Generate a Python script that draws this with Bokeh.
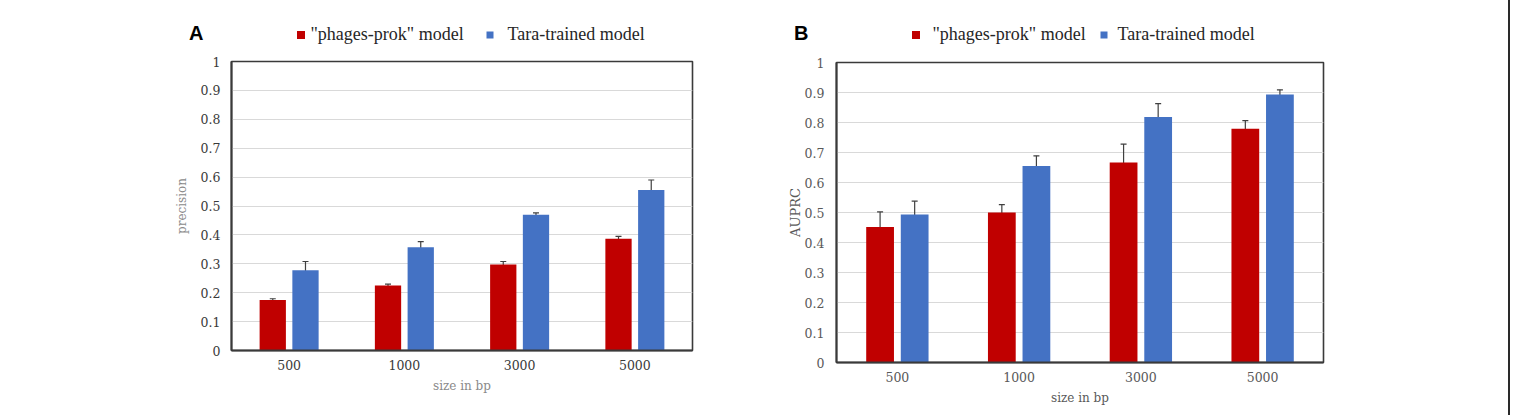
from bokeh.plotting import figure
from bokeh.models import (ColumnDataSource, FactorRange, Range1d, Whisker, TeeHead,
                          Label, FixedTicker, LinearAxis, Div)
from bokeh.layouts import row, column
from bokeh.transform import dodge
from bokeh.embed import file_html
from bokeh.resources import INLINE

# ---- data -------------------------------------------------------------
sizes = ["500", "1000", "3000", "5000"]
series = ['"phages-prok" model', "Tara-trained model"]

precision_phages = [0.175, 0.225, 0.298, 0.387]
precision_phages_err = [0.004, 0.005, 0.010, 0.008]
precision_tara = [0.278, 0.357, 0.470, 0.555]
precision_tara_err = [0.030, 0.020, 0.006, 0.035]

auprc_phages = [0.452, 0.500, 0.667, 0.779]
auprc_phages_err = [0.050, 0.026, 0.061, 0.027]
auprc_tara = [0.493, 0.655, 0.818, 0.893]
auprc_tara_err = [0.045, 0.034, 0.045, 0.016]

y_ticks = [0, 0.1, 0.2, 0.3, 0.4, 0.5, 0.6, 0.7, 0.8, 0.9, 1]

RED = "#C00000"
BLUE = "#4472C4"
COLORS = [RED, BLUE]
SERIF = "Liberation Serif"
TICK_FONT = "DejaVu Serif"


def make_header(letter, width, height, b_left, frame_w, x0,
                swatch_x, swatch_sizes, text_x):
    """Strip above a chart: panel letter on the left, legend in the strip.

    The strip shares the chart's left border and frame width, so its x data
    coordinates run in the same pixels as the page (x0 .. x0 + frame_w) and
    y runs downward from 0 at the top of the strip.
    """
    h = figure(x_range=Range1d(x0, x0 + frame_w), y_range=Range1d(height, 0),
               width=width, height=height, frame_width=frame_w, frame_height=height,
               min_border_left=b_left, min_border_right=width - b_left - frame_w,
               min_border_top=0, min_border_bottom=0,
               x_axis_type=None, y_axis_type=None,
               output_backend="svg", toolbar_location=None, tools="")
    h.grid.visible = False
    h.outline_line_color = None
    h.background_fill_color = "white"
    h.border_fill_color = "white"

    # panel letter, written as the single tick label of a bare left axis
    letter_axis = LinearAxis(ticker=FixedTicker(ticks=[32]),
                             major_label_overrides={32: letter},
                             axis_line_color=None, major_tick_line_color=None,
                             minor_tick_line_color=None, major_tick_out=0,
                             major_tick_in=0, major_label_standoff=28,
                             major_label_text_font="Liberation Sans",
                             major_label_text_font_style="bold",
                             major_label_text_font_size="20px",
                             major_label_text_color="black")
    h.add_layout(letter_axis, "left")

    for name, color, sx, ss, tx in zip(series, COLORS, swatch_x, swatch_sizes, text_x):
        h.scatter(x=[sx], y=[34.5], marker="square", size=ss,
                  fill_color=color, line_color=None)
        h.add_layout(Label(x=tx, y=33.5, text=name, text_font=SERIF,
                           text_font_size="18px", text_baseline="middle",
                           text_align="left", text_color="#262626"))
    return h


def make_panel(ylabel, red_vals, red_err, blue_vals, blue_err,
               width, height, frame_w, frame_h, b_left, b_bottom,
               tick_color, label_color, ylabel_size, ylabel_standoff,
               ytick_standoff):
    src = ColumnDataSource(dict(
        size=sizes,
        red=red_vals,
        red_lo=[v - e for v, e in zip(red_vals, red_err)],
        red_hi=[v + e for v, e in zip(red_vals, red_err)],
        blue=blue_vals,
        blue_lo=[v - e for v, e in zip(blue_vals, blue_err)],
        blue_hi=[v + e for v, e in zip(blue_vals, blue_err)],
    ))

    b_top = height - frame_h - b_bottom
    p = figure(x_range=FactorRange(*sizes, range_padding=0),
               y_range=Range1d(0, 1),
               width=width, height=height,
               frame_width=frame_w, frame_height=frame_h,
               min_border_left=b_left, min_border_top=b_top,
               min_border_bottom=b_bottom,
               min_border_right=width - b_left - frame_w,
               output_backend="svg", toolbar_location=None, tools="")

    off = 0.142
    bw = 0.228
    p.vbar(x=dodge("size", -off, range=p.x_range), top="red", width=bw,
           source=src, fill_color=RED, line_color=None)
    p.vbar(x=dodge("size", off, range=p.x_range), top="blue", width=bw,
           source=src, fill_color=BLUE, line_color=None)

    for name, shift in (("red", -off), ("blue", off)):
        w = Whisker(base=dodge("size", shift, range=p.x_range),
                    lower=f"{name}_lo", upper=f"{name}_hi", source=src,
                    line_color="#404040", line_width=1.2)
        w.upper_head = TeeHead(size=6, line_color="#404040", line_width=1.2)
        w.lower_head = TeeHead(size=6, line_color="#404040", line_width=1.2)
        p.add_layout(w)

    # axes and grid
    p.yaxis.ticker = FixedTicker(ticks=y_ticks)
    p.yaxis.major_label_overrides = {0: "0", 1: "1"}
    p.xgrid.grid_line_color = None
    p.ygrid.grid_line_color = "#d9d9d9"
    p.ygrid.grid_line_width = 1
    p.outline_line_color = "#3a3a3a"
    p.outline_line_width = 1.6
    for ax in (p.xaxis[0], p.yaxis[0]):
        ax.axis_line_color = "#3a3a3a"
        ax.axis_line_width = 2
        ax.major_tick_line_color = None
        ax.minor_tick_line_color = None
        ax.major_label_text_font = TICK_FONT
        ax.major_label_text_font_size = "12.5px"
        ax.major_label_text_color = tick_color
        ax.axis_label_text_font = TICK_FONT
        ax.axis_label_text_font_style = "normal"
        ax.axis_label_text_color = label_color
    p.xaxis.major_label_standoff = 3
    p.xaxis.axis_label = "size in bp"
    p.xaxis.axis_label_text_font_size = "12px"
    p.xaxis.axis_label_standoff = 6
    p.yaxis.axis_label = ylabel
    p.yaxis.axis_label_text_font_size = ylabel_size
    p.yaxis.axis_label_standoff = ylabel_standoff
    p.yaxis.major_label_standoff = ytick_standoff
    p.background_fill_color = "white"
    p.border_fill_color = "white"
    return p


# panel A: precision
hA = make_header("A", 770, 51, b_left=231, frame_w=461, x0=231,
                 swatch_x=[300.5, 489.5], swatch_sizes=[8, 7], text_x=[310, 507])
pA = make_panel("precision", precision_phages, precision_phages_err,
                precision_tara, precision_tara_err,
                width=770, height=364, frame_w=461, frame_h=289, b_left=231,
                b_bottom=65, tick_color="#3a3a3a", label_color="#8a8a8a",
                ylabel_size="12px", ylabel_standoff=9, ytick_standoff=5)

# panel B: AUPRC
hB = make_header("B", 738, 52, b_left=66, frame_w=487, x0=836,
                 swatch_x=[915.5, 1103.5], swatch_sizes=[8, 7], text_x=[932, 1117])
pB = make_panel("AUPRC", auprc_phages, auprc_phages_err,
                auprc_tara, auprc_tara_err,
                width=738, height=363, frame_w=487, frame_h=300, b_left=66,
                b_bottom=53, tick_color="#595959", label_color="#595959",
                ylabel_size="13px", ylabel_standoff=-1, ytick_standoff=6)

edge = Div(text="", width=2, height=415, margin=0,
           styles={"background-color": "#2a2a2a"})

layout = row(column(hA, pA, spacing=0), column(hB, pB, spacing=0), edge, spacing=0)

with open("out.html", "w") as f:
    f.write(file_html(layout, INLINE))
